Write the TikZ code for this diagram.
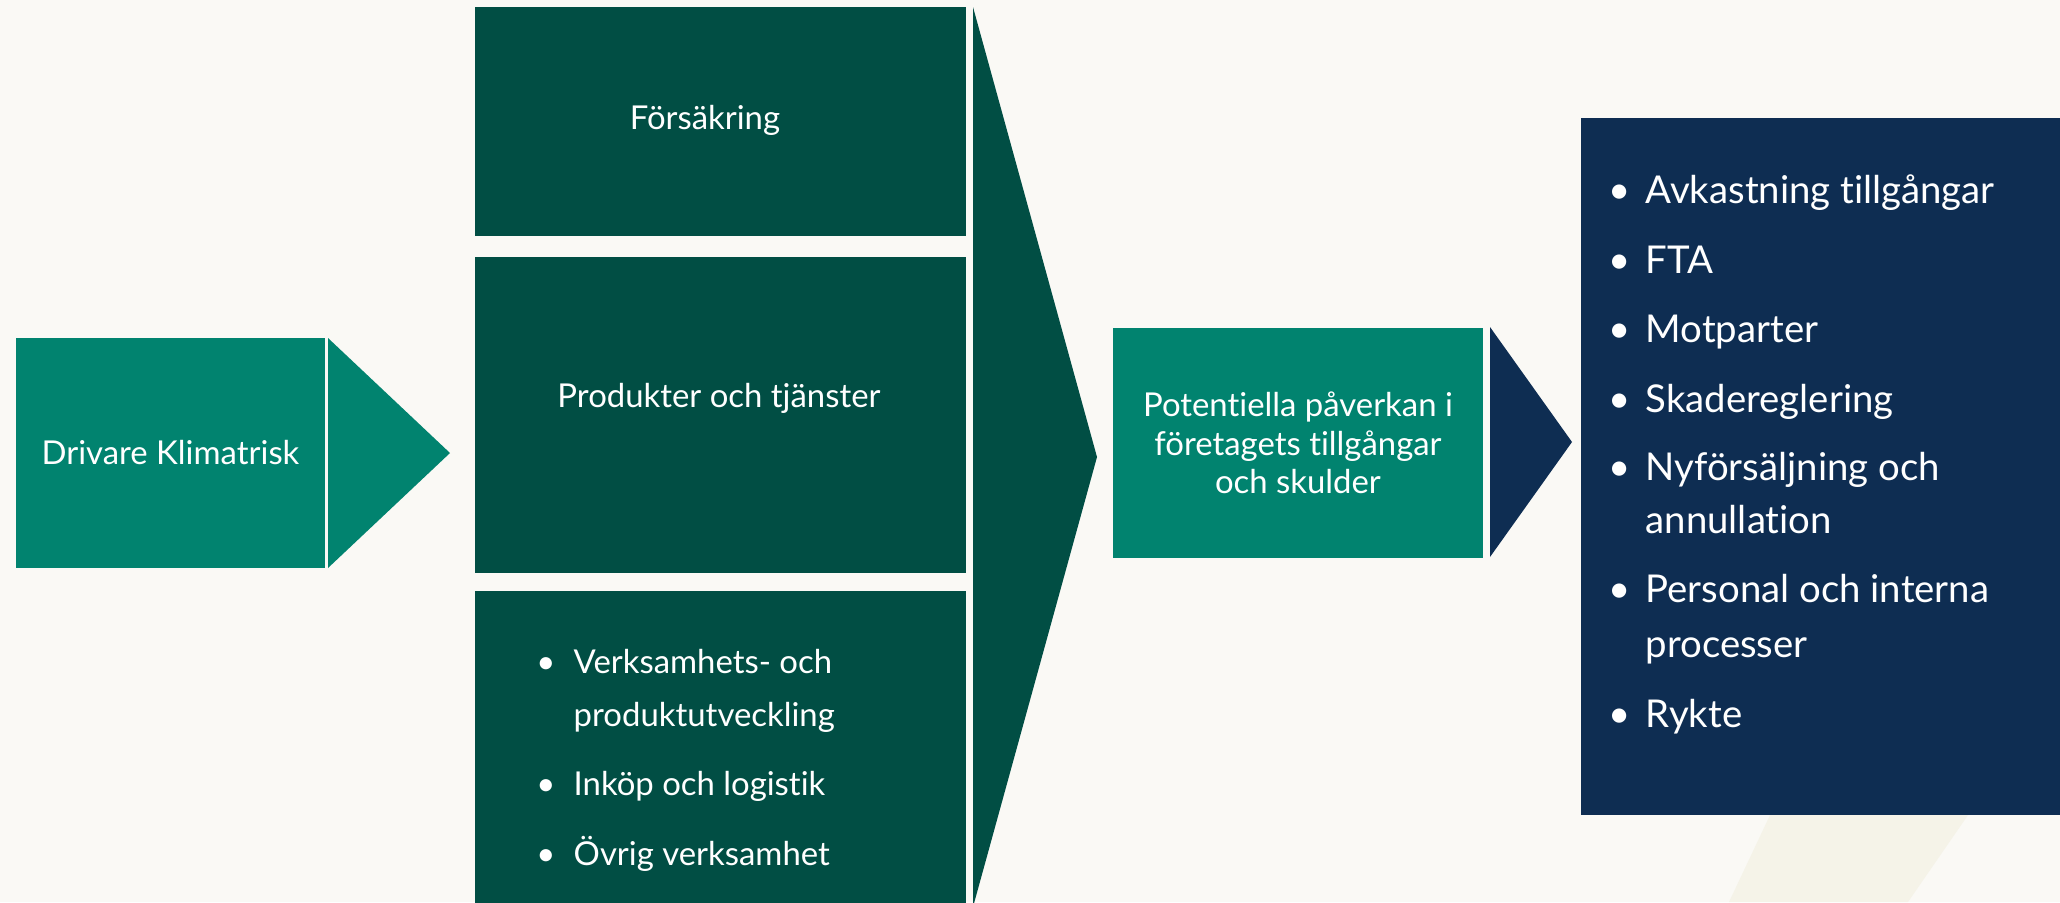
\documentclass[tikz,border=0pt]{standalone}
\usepackage{fontspec}
\setmainfont{Lato}[Ligatures=NoCommon]
\usetikzlibrary{positioning}
\definecolor{klbg}{RGB}{250,249,245}
\definecolor{klsand}{RGB}{245,243,232}
\definecolor{klteal}{RGB}{1,131,111}
\definecolor{klgreen}{RGB}{1,78,68}
\definecolor{klnavy}{RGB}{14,45,82}
\tikzstyle{block} = [fill=klteal, text=white, rectangle, inner sep=0pt, outer sep=0pt, font=\fontsize{9.35}{10.95}\selectfont, align=center]
\tikzstyle{blockd} = [block, fill=klgreen]
\tikzstyle{blockn} = [block, fill=klnavy]
\tikzstyle{lbl} = [text=white, inner sep=0pt, anchor=base, font=\fontsize{9.35}{10.95}\selectfont]
\tikzstyle{itm} = [lbl, anchor=base west]
\tikzstyle{bul} = [lbl]
\tikzstyle{itmr} = [itm, font=\fontsize{10.9}{13}\selectfont]
\tikzstyle{bulr} = [bul, font=\fontsize{10.9}{13}\selectfont]

\begin{document}
\begin{tikzpicture}[x=0.01cm, y=-0.01cm, node distance=0.2cm]
		\useasboundingbox (0,0) rectangle (2060,902);
		\fill[klbg] (0,0) rectangle (2060,902);
		\fill[klsand] (1729,902) -- (1796,760) -- (2006,760) -- (1908,902) -- cycle;

		\node (drv) [block, minimum width=3.09cm, minimum height=2.30cm] at (170.5,453) {Drivare Klimatrisk};
		\node (frs) [blockd, minimum width=4.91cm, minimum height=2.29cm] at (720.5,121.5) {};
		\node (prd) [blockd, minimum width=4.91cm, minimum height=3.16cm, below=0.21cm of frs] {};
		\node (ovr) [blockd, minimum width=4.91cm, minimum height=3.19cm, below=0.18cm of prd] {};
		\node (pot) [block, minimum width=3.70cm, minimum height=2.30cm] at (1298,443) {Potentiella påverkan i\\företagets tillgångar\\och skulder};
		\node (res) [blockn, minimum width=4.79cm, minimum height=6.97cm] at (1820.5,466.5) {};

		% pilar
		\fill[klteal] (328,338) -- (450,453) -- (328,568) -- cycle;
		\fill[klgreen] (973,7) -- (1097,457) -- (973,907) -- cycle;
		\fill[klnavy] (1490,327) -- (1572,442) -- (1490,557) -- cycle;

		\node (frst) [lbl] at (705,129) {Försäkring};
		\node (prdt) [lbl] at (719,407) {Produkter och tjänster};

		\node (b1) [bul] at (546,673) {•};
		\node (v1) [itm] at (573,673) {Verksamhets- och};
		\node (v2) [itm] at (573,726) {produktutveckling};
		\node (b2) [bul] at (546,795) {•};
		\node (v3) [itm] at (573,795) {Inköp och logistik};
		\node (b3) [bul] at (546,865) {•};
		\node (v4) [itm] at (573,865) {Övrig verksamhet};

		\node (r1b) [bulr] at (1620,203) {•};
		\node (r1) [itmr] at (1645,203) {Avkastning tillgångar};
		\node (r2b) [bulr] at (1620,273) {•};
		\node (r2) [itmr] at (1645,273) {FTA};
		\node (r3b) [bulr] at (1620,342) {•};
		\node (r3) [itmr] at (1645,342) {Motparter};
		\node (r4b) [bulr] at (1620,412) {•};
		\node (r4) [itmr] at (1645,412) {Skadereglering};
		\node (r5b) [bulr] at (1620,480) {•};
		\node (r5) [itmr] at (1645,480) {Nyförsäljning och};
		\node (r5x) [itmr] at (1645,533) {annullation};
		\node (r6b) [bulr] at (1620,602) {•};
		\node (r6) [itmr] at (1645,602) {Personal och interna};
		\node (r6x) [itmr] at (1645,657) {processer};
		\node (r7b) [bulr] at (1620,727) {•};
		\node (r7) [itmr] at (1645,727) {Rykte};
	\end{tikzpicture}
\end{document}
